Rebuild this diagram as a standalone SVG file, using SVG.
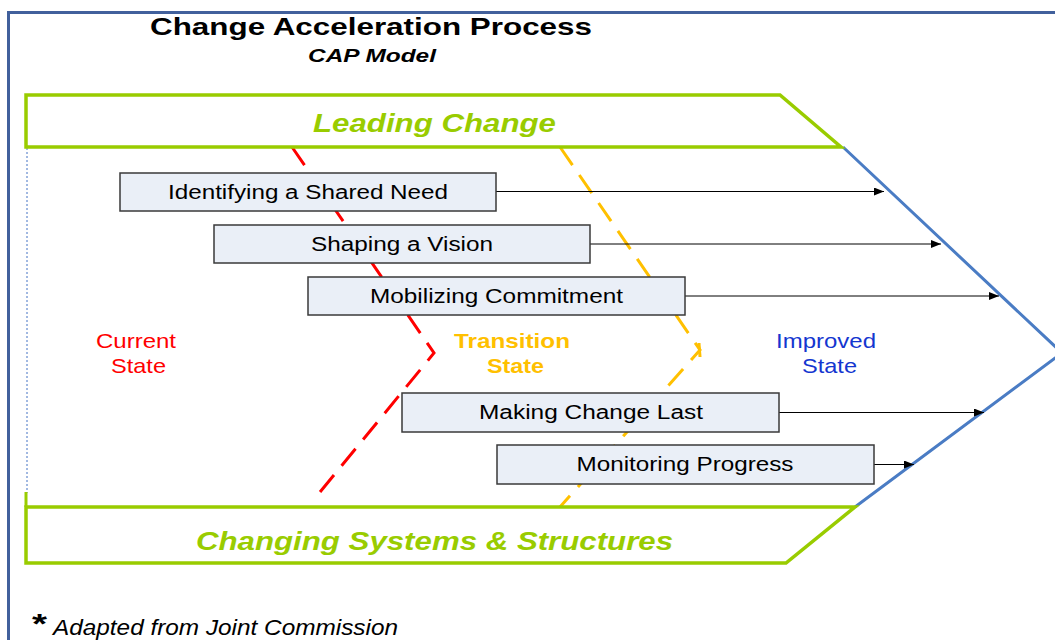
<svg xmlns="http://www.w3.org/2000/svg" width="1055" height="640" viewBox="0 0 1055 640">
  <defs>
    <marker id="arrow" viewBox="0 0 10 8" refX="10" refY="4" markerWidth="10" markerHeight="8" markerUnits="userSpaceOnUse" orient="auto">
      <path d="M0,0 L10,4 L0,8 Z" fill="#000"/>
    </marker>
    <style>
      text { font-family: "Liberation Sans", Arial, sans-serif; }
      .band { fill: #fff; stroke: #99cc00; stroke-width: 3.5; stroke-linejoin: miter; }
      .band-label { fill: #99cc00; font-size: 26px; font-weight: bold; font-style: italic; }
      .step rect { fill: #eaeff7; stroke: #3a3a3a; stroke-width: 1.5; }
      .step text { fill: #000; font-size: 20px; }
      .conn { stroke: #000; stroke-width: 1; fill: none; marker-end: url(#arrow); }
      .state { font-size: 21px; }
      .boundary { fill: none; stroke-width: 3; stroke-dasharray: 22 12; stroke-linejoin: miter; }
    </style>
  </defs>

  <rect width="1055" height="640" fill="#fff"/>

  <!-- outer frame -->
  <rect x="8.5" y="12.5" width="1100" height="700" fill="none" stroke="#41609c" stroke-width="3"/>

  <!-- title -->
  <g id="title">
    <text x="371" y="35" text-anchor="middle" font-size="24" font-weight="bold" textLength="442" lengthAdjust="spacingAndGlyphs">Change Acceleration Process</text>
    <text x="372" y="62" text-anchor="middle" font-size="18" font-weight="bold" font-style="italic" textLength="128" lengthAdjust="spacingAndGlyphs">CAP Model</text>
  </g>

  <!-- left guide line -->
  <line x1="27" y1="148" x2="27" y2="493" stroke="#4472c4" stroke-width="1" stroke-dasharray="2 2"/>
  <line x1="26" y1="492" x2="26" y2="507" stroke="#99cc00" stroke-width="3"/>

  <!-- state boundaries -->
  <g id="boundaries">
    <polyline class="boundary" stroke="#ff0000" points="292,147 434,353 316,497"/>
    <polyline class="boundary" stroke="#ffc000" stroke-dasharray="20 12" points="560,147 700,350 560,507"/>
    <line x1="699" y1="343" x2="700" y2="357" stroke="#ffc000" stroke-width="3"/>
  </g>

  <!-- improved-state outline -->
  <polyline points="843,147 1062,353 855,507" fill="none" stroke="#4a7cc4" stroke-width="3"/>

  <!-- bands -->
  <g id="leading-change">
    <polygon class="band" points="26,95 780,95 841,147 26,147"/>
    <text class="band-label" x="434.5" y="132" text-anchor="middle" textLength="243" lengthAdjust="spacingAndGlyphs">Leading Change</text>
  </g>
  <g id="changing-systems">
    <polygon class="band" points="26,507 855,507 786,563 26,563"/>
    <text class="band-label" x="434.5" y="550" text-anchor="middle" font-size="24" textLength="477" lengthAdjust="spacingAndGlyphs">Changing Systems &amp; Structures</text>
  </g>

  <!-- connectors -->
  <g id="connectors">
    <line class="conn" x1="496" y1="191.5" x2="884" y2="191.5"/>
    <line class="conn" x1="590" y1="244" x2="941" y2="244"/>
    <line class="conn" x1="685" y1="296" x2="999" y2="296"/>
    <line class="conn" x1="779" y1="412.5" x2="984" y2="412.5"/>
    <line class="conn" x1="874" y1="464.5" x2="914" y2="464.5"/>
  </g>

  <!-- steps -->
  <g id="step-shared-need" class="step">
    <rect x="120" y="173" width="376" height="38"/>
    <text x="308" y="199" text-anchor="middle" textLength="280" lengthAdjust="spacingAndGlyphs">Identifying a Shared Need</text>
  </g>
  <g id="step-vision" class="step">
    <rect x="214" y="225" width="376" height="38"/>
    <text x="402" y="251" text-anchor="middle" textLength="182" lengthAdjust="spacingAndGlyphs">Shaping a Vision</text>
  </g>
  <g id="step-commitment" class="step">
    <rect x="308" y="277" width="377" height="38"/>
    <text x="496.5" y="303" text-anchor="middle" textLength="253" lengthAdjust="spacingAndGlyphs">Mobilizing Commitment</text>
  </g>
  <g id="step-change-last" class="step">
    <rect x="402" y="393" width="377" height="39"/>
    <text x="591" y="419" text-anchor="middle" textLength="224" lengthAdjust="spacingAndGlyphs">Making Change Last</text>
  </g>
  <g id="step-monitoring" class="step">
    <rect x="497" y="445" width="377" height="39"/>
    <text x="685" y="471" text-anchor="middle" textLength="217" lengthAdjust="spacingAndGlyphs">Monitoring Progress</text>
  </g>

  <!-- state labels -->
  <g id="current-state" class="state" fill="#ff0000">
    <text x="136" y="348" text-anchor="middle" textLength="80" lengthAdjust="spacingAndGlyphs">Current</text>
    <text x="138.5" y="373" text-anchor="middle" textLength="55" lengthAdjust="spacingAndGlyphs">State</text>
  </g>
  <g id="transition-state" class="state" fill="#ffc000" font-weight="bold">
    <text x="512" y="348" text-anchor="middle" textLength="116" lengthAdjust="spacingAndGlyphs">Transition</text>
    <text x="515.5" y="373" text-anchor="middle" textLength="57" lengthAdjust="spacingAndGlyphs">State</text>
  </g>
  <g id="improved-state" class="state" fill="#1436d0">
    <text x="826" y="348" text-anchor="middle" textLength="100" lengthAdjust="spacingAndGlyphs">Improved</text>
    <text x="829.5" y="373" text-anchor="middle" textLength="55" lengthAdjust="spacingAndGlyphs">State</text>
  </g>

  <!-- footnote -->
  <g id="footnote">
    <text x="32" y="633" font-size="28" font-weight="bold" textLength="15" lengthAdjust="spacingAndGlyphs">*</text>
    <text x="53" y="635" font-size="22" font-style="italic" textLength="345" lengthAdjust="spacingAndGlyphs">Adapted from Joint Commission</text>
  </g>
</svg>
